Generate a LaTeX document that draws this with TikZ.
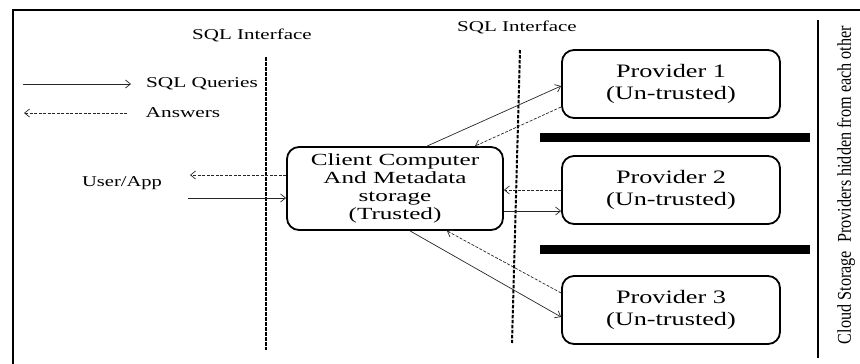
\documentclass[tikz,border=0pt]{standalone}
\usepackage{fontspec}
\usepackage{graphicx}
\setmainfont{Liberation Serif}
\usetikzlibrary{arrows.meta}
\newcommand\hstretch[2]{\scalebox{#1}[1]{#2}}
\tikzset{
  x=1pt, y=-1pt,
  frame/.style={line width=2pt},
  sep/.style={line width=2pt, dash pattern=on 3.5pt off 1.5pt},
  bar/.style={fill=black, draw=none},
  pbox/.style={draw, line width=1.8pt, rounded corners=12pt, minimum width=218pt,
    minimum height=68pt, inner sep=0pt, align=center,
    font=\fontsize{19}{22}\selectfont},
  cbox/.style={draw, line width=1.8pt, rounded corners=12pt, minimum width=216pt,
    minimum height=83pt, inner sep=0pt, align=center,
    font=\fontsize{17}{18}\selectfont},
  lbl/.style={inner sep=0pt, font=\fontsize{15}{15}\selectfont},
  tip/.style={-{Straight Barb[length=5pt,width=8pt]}},
  query/.style={tip, line width=0.7pt, black!85},
  answer/.style={tip, line width=0.7pt, black!85, dash pattern=on 3pt off 1.5pt},
}
\begin{document}
\begin{tikzpicture}
\useasboundingbox (0,0) rectangle (860,364);

% outer frame (top and left edges)
\draw[frame] (13,364) -- (13,10) -- (860,10);

% interface boundaries
\draw[sep] (266,57) -- (266,350);
\draw[sep] (520,50) -- (512,343);
\node[lbl] (if1) at (252,35) {\hstretch{1.4}{SQL Interface}};
\node[lbl] (if2) at (517,27) {\hstretch{1.4}{SQL Interface}};

% legend
\coordinate (lq1) at (23,84);
\coordinate (lq2) at (131,84);
\coordinate (la1) at (127,113);
\coordinate (la2) at (24,113);
\draw[query] (lq1) -- (lq2);
\draw[answer] (la1) -- (la2);
\node[lbl] (lq) at (202,84) {\hstretch{1.42}{SQL Queries}};
\node[lbl] (la) at (183,113) {\hstretch{1.42}{Answers}};

% client
\node[cbox] (cl) at (395,188.5) {\hstretch{1.48}{Client Computer}\\ \hstretch{1.48}{And Metadata}\\
  \hstretch{1.48}{storage}\\ \hstretch{1.48}{(Trusted)}};
\node[lbl] (ua) at (122,183) {\hstretch{1.37}{User/App}};
\coordinate (uaout) at (190,175);
\coordinate (uain) at (188,198);
\draw[answer] ([yshift=13.5pt]cl.west) -- (uaout);
\draw[query] (uain) -- ([yshift=-9.5pt]cl.west);

% providers
\node[pbox] (p1) at (671,84) {\hstretch{1.38}{Provider 1}\\ \hstretch{1.38}{(Un-trusted)}};
\node[pbox] (p2) at (671,190) {\hstretch{1.38}{Provider 2}\\ \hstretch{1.38}{(Un-trusted)}};
\node[pbox] (p3) at (671,310) {\hstretch{1.38}{Provider 3}\\ \hstretch{1.38}{(Un-trusted)}};

% separators between providers
\fill[bar] (540,133) rectangle (810,142);
\fill[bar] (540,245) rectangle (810,254);

% client <-> provider traffic
\draw[query] ([xshift=32pt]cl.north) -- ([yshift=-2pt]p1.west);
\draw[answer] ([yshift=-23pt]p1.west) -- ([xshift=80pt]cl.north);
\draw[answer] (p2.west) -- ([yshift=-1.5pt]cl.east);
\draw[query] ([yshift=-22.5pt]cl.east) -- ([yshift=-21pt]p2.west);
\draw[answer] ([yshift=17pt]p3.west) -- ([xshift=52pt]cl.south);
\draw[query] ([xshift=15pt]cl.south) -- ([yshift=-7pt]p3.west);

% cloud side
\draw[line width=1.4pt] (818,20) -- (818,358);
\node[inner sep=0pt, font=\fontsize{15}{15}\selectfont, rotate=90, xscale=1.08, yscale=1.3]
  (cs) at (846,185) {Cloud Storage\ \ Providers hidden from each other};
\end{tikzpicture}
\end{document}
